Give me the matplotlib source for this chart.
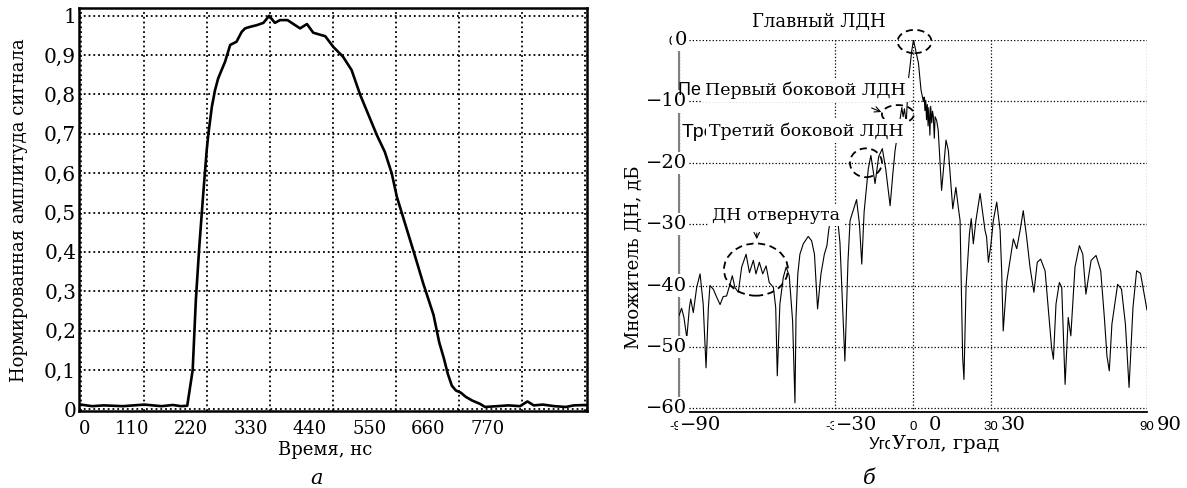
import matplotlib
matplotlib.use('Agg')
import matplotlib.pyplot as plt
from matplotlib.patches import Ellipse
from matplotlib.transforms import offset_copy

W, H = 1187, 488
SERIF = 'DejaVu Serif'
SANS = 'Liberation Sans'

# --- left panel: normalised pulse envelope
time_ns = [0, 20, 40, 74, 111, 141, 161, 175, 186, 195.5, 201, 207, 214, 220,
           223, 229, 234.5, 240, 252, 261, 272, 281, 287, 296, 307, 319, 329,
           339, 348, 361, 383, 395, 406, 427, 441, 458, 473, 488, 517, 531,
           543, 552, 584, 598, 616, 626, 634, 641, 648, 655, 664, 672, 684,
           697, 706, 727, 747, 767, 780, 791, 807, 827, 847, 861, 881, 884]
amplitude = [0.012, 0.008, 0.01, 0.008, 0.012, 0.008, 0.011, 0.008, 0.009,
             0.1, 0.277, 0.413, 0.549, 0.659, 0.701, 0.769, 0.811, 0.841,
             0.883, 0.926, 0.934, 0.959, 0.968, 0.972, 0.976, 0.982, 1.0,
             0.982, 0.989, 0.989, 0.968, 0.979, 0.957, 0.948, 0.921, 0.896,
             0.862, 0.799, 0.697, 0.654, 0.6, 0.54, 0.388, 0.32, 0.24, 0.17,
             0.13, 0.09, 0.06, 0.048, 0.042, 0.032, 0.022, 0.014, 0.006,
             0.008, 0.01, 0.008, 0.02, 0.01, 0.012, 0.008, 0.006, 0.01,
             0.011, 0.01]
time_grid = [0, 110, 220, 330, 440, 550, 660, 770, 880]
time_labels = [0, 110, 220, 330, 440, 550, 660, 770]
amp_ticks = [0, 0.1, 0.2, 0.3, 0.4, 0.5, 0.6, 0.7, 0.8, 0.9, 1.0]
amp_labels = ['0', '0,1', '0,2', '0,3', '0,4', '0,5', '0,6', '0,7', '0,8',
              '0,9', '1']

# --- right panel: array factor, dB
angle_deg = [-90, -89.0, -88.1, -87.0, -86.0, -85.5, -84.5, -83.2, -81.9,
             -80.7, -79.6, -78.7, -78.1, -76.8, -75.5, -74.2, -73.0, -71.7,
             -70.4, -69.5, -68.5, -67.2, -65.9, -64.2, -62.9, -61.4, -60.4,
             -59.1, -57.8, -56.5, -55.3, -53.7, -52.8, -52.2, -51.2, -49.9,
             -48.8, -47.6, -46.3, -45.4, -45.0, -44.3, -43.5, -42.2, -40.3,
             -39.0, -37.9, -36.7, -35.4, -34.1, -33.1, -32.6, -31.9, -30.3,
             -28.9, -28.1, -26.2, -25.0, -24.2, -21.7, -20.6, -19.7, -18.8,
             -17.2, -16.2, -14.6, -13.2, -11.8, -10.5, -8.8, -7.8, -6.9,
             -6.0, -5.2, -4.3, -3.8, -3.3, -2.6, -1.8, -1.2, -0.5, 0.2,
             1.3, 2.1, 3.1, 4.0, 4.3, 4.6, 4.9, 5.2, 5.5, 5.8, 6.1, 6.5,
             6.8, 7.2, 7.5, 7.8, 8.2, 8.5, 9.1, 9.7, 11.0, 12.7, 13.6, 15.3,
             16.5, 17.4, 18.1, 19.1, 19.6, 20.4, 21.7, 22.4, 23.2, 24.2,
             25.8, 27.7, 28.3, 29.0, 30.0, 30.9, 32.2, 33.5, 34.1, 34.7,
             36.0, 37.3, 38.6, 39.9, 41.2, 42.4, 43.7, 45.0, 46.5, 47.8,
             49.1, 50.8, 52.1, 53.3, 54.0, 55.0, 56.3, 57.2, 58.5, 59.7,
             60.7, 62.3, 64.0, 65.3, 66.5, 68.5, 70.4, 72.2, 73.6, 74.6,
             75.5, 76.5, 78.7, 80.2, 81.7, 83.1, 84.6, 86.0, 87.5, 90]
gain_db = [-44.9, -43.7, -45.2, -48.5, -43.6, -42.2, -44.4, -40.3, -38.1,
           -43.0, -53.4, -43.6, -40.0, -40.6, -41.9, -43.1, -41.8, -41.7,
           -39.8, -38.4, -40.3, -41.1, -37.0, -34.9, -37.9, -35.9, -38.1,
           -36.2, -38.1, -36.8, -39.5, -40.3, -43.6, -54.7, -43.0, -38.7,
           -37.0, -38.4, -45.8, -59.1, -45.2, -38.1, -34.9, -33.2, -32.0,
           -32.7, -34.9, -43.8, -38.1, -34.9, -33.5, -31.6, -29.4, -27.5,
           -29.5, -33.0, -52.3, -36.0, -29.4, -26.0, -30.0, -36.5, -28.0,
           -21.0, -18.8, -23.4, -19.0, -17.7, -21.0, -27.0, -22.0, -18.0,
           -15.5, -13.5, -11.0, -12.5, -11.2, -13.5, -6.5, -4.5, -1.8, 0.0,
           -2.2, -3.8, -8.2, -10.0, -9.3, -11.5, -9.8, -13.0, -10.5, -14.0,
           -11.0, -15.5, -10.8, -13.5, -11.6, -12.3, -16.0, -12.5, -13.1,
           -14.7, -24.5, -16.3, -18.0, -27.5, -24.0, -27.2, -29.4, -51.7,
           -55.3, -40.3, -31.6, -29.1, -33.2, -29.4, -25.0, -31.0, -32.1,
           -36.2, -33.2, -29.4, -26.4, -31.0, -37.6, -47.4, -39.5, -35.9,
           -32.4, -34.0, -31.0, -27.8, -32.1, -37.0, -41.1, -36.2, -35.7,
           -37.6, -44.1, -50.1, -52.0, -43.0, -39.5, -40.3, -56.1, -45.2,
           -48.2, -37.0, -33.5, -34.9, -41.4, -35.9, -35.1, -37.6, -45.2,
           -51.5, -53.9, -46.3, -39.8, -40.6, -46.3, -56.6, -43.6, -37.6,
           -38.0, -44.0]
angle_ticks = [-90, -30, 0, 30, 90]
db_ticks = [0, -10, -20, -30, -40, -50, -60]


def box(x0, y0, x1, y1):
    return [x0 / W, 1 - y1 / H, (x1 - x0) / W, (y1 - y0) / H]


def put(px, py, s, **kw):
    return fig.text(px / W, 1 - py / H, s, **kw)


fig = plt.figure(figsize=(W / 100, H / 100), dpi=100)

# left panel
ax1 = fig.add_axes(box(79, 8.3, 587, 410.7))
ax1.plot(time_ns, amplitude, color='black', lw=1.9)
ax1.set_xlim(-3, 884)
ax1.set_ylim(-0.0035, 1.019)
ax1.set_xticks(time_grid)
ax1.set_xticklabels([])
ax1.set_yticks(amp_ticks)
ax1.set_yticklabels(amp_labels, fontfamily=SERIF, fontsize=14.5)
ax1.tick_params(length=0, pad=2)
ax1.grid(True, color='black', ls=':', lw=1.3)
for sp in ax1.spines.values():
    sp.set_linewidth(1.8)

# the printed labels do not sit on the grid lines
sec = ax1.secondary_xaxis('bottom', functions=(lambda x: (x - 16.1) / 0.941,
                                               lambda s: 16.1 + 0.941 * s))
sec.set_xticks(time_labels)
sec.set_xticklabels([str(v) for v in time_labels], fontfamily=SERIF,
                    fontsize=13, ha='right')
sec.tick_params(length=0, pad=7)
sec.spines['bottom'].set_visible(False)

put(19, 210, 'Нормированная амплитуда сигнала', rotation=90, ha='center',
    va='center', family=SERIF, fontsize=13)
put(325, 450, 'Время, нс', ha='center', va='center', family=SERIF, fontsize=13)
put(317, 478, 'а', ha='center', va='center', family=SERIF, fontsize=15,
    style='italic')

# right panel
ax2 = fig.add_axes(box(679, 40, 1147, 411.7))
ax2.plot(angle_deg, gain_db, color='black', lw=0.8, zorder=3)
ax2.set_xlim(-90, 90)
ax2.set_ylim(-60.55, 0)
ax2.set_xticks(angle_ticks)
ax2.set_xticklabels([str(v) for v in angle_ticks], fontfamily=SANS, fontsize=9.5)
ax2.set_yticks(db_ticks)
# small original labels: only the top one shows from under the new ones
ax2.set_yticklabels(['0'] + [''] * (len(db_ticks) - 1), fontfamily=SANS,
                    fontsize=9.5)
ax2.tick_params(length=0)
ax2.tick_params(axis='x', pad=7)
ax2.tick_params(axis='y', pad=2)
ax2.grid(True, color='black', ls=':', lw=0.9)
ax2.spines['top'].set_visible(False)
ax2.spines['right'].set_visible(False)
ax2.spines['left'].set_color('#808080')
ax2.spines['left'].set_linewidth(1.5)
ax2.spines['bottom'].set_linewidth(1.3)

white = dict(fc='white', ec='none', pad=1.5)
xt = offset_copy(ax2.get_xaxis_transform(), fig=fig, x=22, y=-13.5, units='dots')
for v in angle_ticks:
    ax2.text(v, 0, str(v).replace('-', '−'), transform=xt, ha='center',
             va='center', family=SERIF, fontsize=14, bbox=white, zorder=5)
yt = offset_copy(ax2.get_yaxis_transform(), fig=fig, x=8, y=0, units='dots')
for v in db_ticks:
    ax2.text(0, v, str(v).replace('-', '−'), transform=yt, ha='right',
             va='center', family=SERIF, fontsize=14, bbox=white, zorder=5)

# dashed marks around the lobes
for cx, cy, w, h in [(0.6, -0.25, 13, 3.8), (-5.8, -12.1, 12.3, 3.0),
                     (-18.1, -20.0, 12.3, 4.7), (-60.4, -37.4, 24.6, 8.5)]:
    ax2.add_patch(Ellipse((cx, cy), w, h, fill=False, ls=(0, (4, 2.5)),
                          lw=1.3, color='black', zorder=4, clip_on=False))
ax2.annotate('', xy=(-11.2, -11.9), xytext=(-16.9, -10.9),
             arrowprops=dict(arrowstyle='->', lw=0.8, color='black'))
ax2.annotate('', xy=(-60.1, -32.9), xytext=(-60.1, -31.0),
             arrowprops=dict(arrowstyle='->', lw=0.8, color='black'))

# remains of the original labels, partly covered by the new ones
put(678, 90, 'Первый боковой ЛДН', ha='left', va='center', family=SANS,
    fontsize=13, zorder=3)
put(682, 132, 'Третий боковой ЛДН', ha='left', va='center', family=SANS,
    fontsize=14, zorder=3)
put(869, 444, 'Угол, град', ha='left', va='center', family=SANS,
    fontsize=12, zorder=3)

box_kw = dict(fc='white', ec='none', pad=2)
put(819, 22, 'Главный ЛДН', ha='center', va='center', family=SERIF,
    fontsize=13, zorder=4)
put(705, 90, 'Первый боковой ЛДН', ha='left', va='center', family=SERIF,
    fontsize=12.5, bbox=box_kw, zorder=4)
put(709, 131, 'Третий боковой ЛДН', ha='left', va='center', family=SERIF,
    fontsize=12.5, bbox=box_kw, zorder=4)
put(712, 215, 'ДН отвернута', ha='left', va='center', family=SERIF,
    fontsize=12.5, bbox=box_kw, zorder=4)
put(946, 444, 'Угол, град', ha='center', va='center', family=SERIF,
    fontsize=14, bbox=box_kw, zorder=4)
put(634, 257, 'Множитель ДН, дБ', rotation=90, ha='center', va='center',
    family=SERIF, fontsize=13)
put(869, 478, 'б', ha='center', va='center', family=SERIF, fontsize=15,
    style='italic')

fig.savefig('out.png', dpi=100)
